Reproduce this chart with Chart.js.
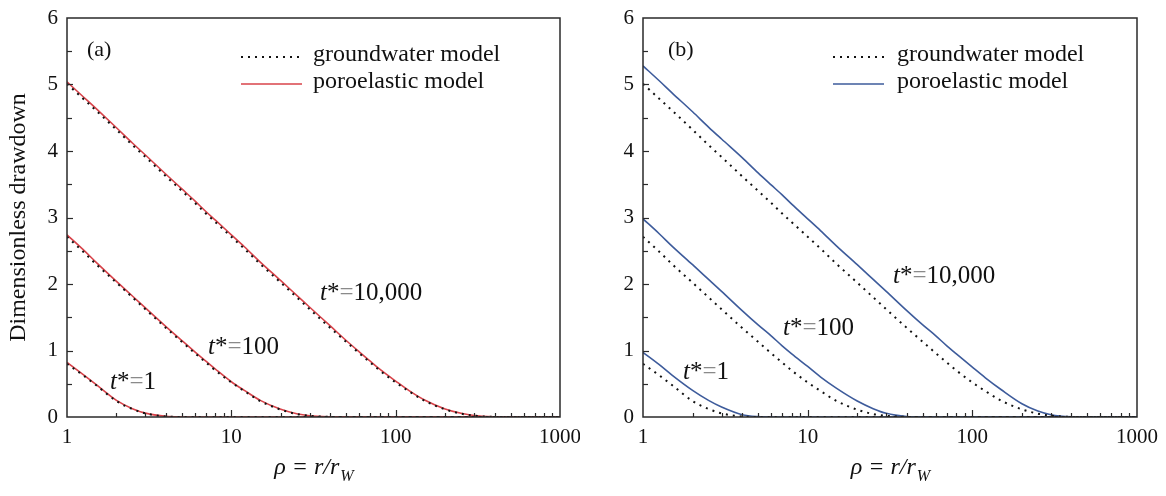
<!DOCTYPE html>
<html><head><meta charset="utf-8">
<script src="https://cdn.jsdelivr.net/npm/chart.js@4.4.1/dist/chart.umd.min.js"></script>
<style>
html,body{margin:0;padding:0;background:#fff;}
#wrap{position:relative;width:1166px;height:496px;overflow:hidden;background:#fff;}
canvas{position:absolute;top:0;}
</style></head><body>
<div id="wrap">
<canvas id="ca" width="580" height="496" style="left:0;width:580px;height:496px"></canvas>
<canvas id="cb" width="586" height="496" style="left:580px;width:586px;height:496px"></canvas>
</div>
<script>
// ---- data ----
const rho = [1, 1.25, 1.5, 2, 2.5, 3, 4, 5, 6, 7, 8, 10, 12, 15, 20, 25, 30, 40, 50, 60, 70, 80, 100, 120, 150, 200, 250, 300, 400, 500, 700, 1000];

const xTickLabels = [1, 10, 100, 1000];
const yTickLabels = [0, 1, 2, 3, 4, 5, 6];
const timeLabels = ['1', '100', '10,000'];

// groundwater model (same in both panels)
const gwT1     = [0.80,0.63,0.48,0.24,0.12,0.055,0.008,0.001,0,0,0,0,0,0,0,0,0,0,0,0,0,0,0,0,0,0,0,0,0,0,0,0];
const gwT100   = [2.71,2.49,2.30,2.02,1.80,1.62,1.34,1.13,0.96,0.82,0.70,0.52,0.39,0.24,0.11,0.045,0.018,0.002,0,0,0,0,0,0,0,0,0,0,0,0,0,0];
const gwT10000 = [5.01,4.79,4.61,4.32,4.09,3.91,3.62,3.40,3.22,3.06,2.93,2.71,2.53,2.30,2.02,1.80,1.62,1.34,1.13,0.96,0.82,0.70,0.52,0.39,0.245,0.115,0.05,0.02,0.002,0,0,0];

// poroelastic model, panel (a)
const paT1     = [0.82,0.64,0.49,0.25,0.125,0.058,0.009,0.001,0,0,0,0,0,0,0,0,0,0,0,0,0,0,0,0,0,0,0,0,0,0,0,0];
const paT100   = [2.74,2.52,2.33,2.04,1.82,1.64,1.36,1.15,0.98,0.84,0.72,0.53,0.40,0.25,0.115,0.048,0.019,0.003,0,0,0,0,0,0,0,0,0,0,0,0,0,0];
const paT10000 = [5.04,4.82,4.64,4.35,4.12,3.94,3.65,3.43,3.25,3.09,2.96,2.74,2.56,2.33,2.05,1.83,1.65,1.37,1.15,0.98,0.84,0.72,0.54,0.40,0.255,0.12,0.055,0.022,0.003,0,0,0];

// poroelastic model, panel (b)
const pbT1     = [0.97,0.79,0.63,0.40,0.25,0.15,0.035,0.005,0,0,0,0,0,0,0,0,0,0,0,0,0,0,0,0,0,0,0,0,0,0,0,0];
const pbT100   = [2.98,2.76,2.57,2.29,2.07,1.89,1.60,1.385,1.22,1.07,0.95,0.76,0.60,0.43,0.24,0.125,0.055,0.008,0.001,0,0,0,0,0,0,0,0,0,0,0,0,0];
const pbT10000 = [5.28,5.06,4.875,4.59,4.36,4.18,3.90,3.67,3.49,3.34,3.20,2.98,2.80,2.57,2.29,2.07,1.89,1.60,1.385,1.22,1.07,0.95,0.75,0.59,0.41,0.20,0.09,0.035,0.004,0,0,0];

const FONT = "'Liberation Serif', 'Times New Roman', serif";
const RED = '#d8434a';
const BLUE = '#3d5b9b';

function pts(arr){ return rho.map((r,i)=>({x:r, y:arr[i]})); }

function makeChart(id, cfg){
  const W = cfg.canvasW;
  const dotted = (arr)=>({data: pts(arr), showLine:true, borderColor:'#111', borderWidth:2, borderDash:[2,5], borderCapStyle:'butt', pointRadius:0, fill:false, cubicInterpolationMode:'monotone'});
  const solid = (arr)=>({data: pts(arr), showLine:true, borderColor:cfg.color, borderWidth:1.6, pointRadius:0, fill:false, cubicInterpolationMode:'monotone'});
  const datasets = [
    Object.assign({label:'groundwater model'}, dotted(gwT10000)),
    dotted(gwT100), dotted(gwT1),
    Object.assign({label:'poroelastic model'}, solid(cfg.p[2])),
    solid(cfg.p[1]), solid(cfg.p[0])
  ];
  const deco = {
    id:'deco',
    afterDraw(chart){
      const ctx = chart.ctx, a = chart.chartArea, xs = chart.scales.x, ys = chart.scales.y;
      ctx.save();
      // frame
      ctx.strokeStyle = '#2a2a2a'; ctx.lineWidth = 1.5;
      ctx.strokeRect(a.left, a.top, a.right - a.left, a.bottom - a.top);
      // y ticks (inward)
      ctx.lineWidth = 1.2;
      for (let v = 0.5; v < 6; v += 0.5){
        const y = Math.round(ys.getPixelForValue(v)) + 0.5;
        const len = (v % 1 === 0) ? 6 : 5;
        ctx.beginPath(); ctx.moveTo(a.left, y); ctx.lineTo(a.left + len, y); ctx.stroke();
      }
      // x ticks (inward)
      for (const d of [1, 10, 100]){
        for (let k = 1; k <= 9; k++){
          const v = d * k; if (v <= 1) continue;
          const x = Math.round(xs.getPixelForValue(v)) + 0.5;
          const len = (k === 1) ? 7 : 4;
          ctx.beginPath(); ctx.moveTo(x, a.bottom); ctx.lineTo(x, a.bottom - len); ctx.stroke();
        }
      }
      // panel letter
      ctx.fillStyle = '#111';
      ctx.font = '22px ' + FONT;
      ctx.textBaseline = 'middle'; ctx.textAlign = 'left';
      ctx.fillText(cfg.letter, cfg.letterX, 50);
      // legend
      ctx.font = '24px ' + FONT;
      ctx.strokeStyle = '#111'; ctx.lineWidth = 2; ctx.setLineDash([2,5]);
      ctx.beginPath(); ctx.moveTo(cfg.legX0, 57); ctx.lineTo(cfg.legX1, 57); ctx.stroke();
      ctx.setLineDash([]);
      ctx.strokeStyle = cfg.color; ctx.lineWidth = 1.6;
      ctx.beginPath(); ctx.moveTo(cfg.legX0, 84); ctx.lineTo(cfg.legX1, 84); ctx.stroke();
      ctx.fillText('groundwater model', cfg.legTextX, 55);
      ctx.fillText('poroelastic model', cfg.legTextX, 82);
      // curve labels
      cfg.ann.forEach((p, i)=>{
        let x = p[0];
        const y = p[1];
        const parts = [
          ['italic 25px ' + FONT, 't', '#111'],
          ['25px ' + FONT, '*', '#111'],
          ['25px ' + FONT, '=', '#8a8a8a'],
          ['25px ' + FONT, timeLabels[i], '#111']
        ];
        parts.forEach(pp=>{
          ctx.font = pp[0]; ctx.fillStyle = pp[2];
          ctx.fillText(pp[1], x, y);
          x += ctx.measureText(pp[1]).width;
        });
      });
      // x axis title: rho = r/r_W
      ctx.fillStyle = '#111';
      const cx = (a.left + a.right) / 2;
      ctx.font = 'italic 24px ' + FONT;
      const main = 'ρ = r/r';
      const wMain = ctx.measureText(main).width;
      ctx.font = 'italic 16px ' + FONT;
      const wSub = ctx.measureText('W').width;
      let x0 = cx - (wMain + wSub) / 2;
      ctx.font = 'italic 24px ' + FONT;
      ctx.fillText(main, x0, 468);
      ctx.font = 'italic 16px ' + FONT;
      ctx.fillText('W', x0 + wMain + 1, 477);
      ctx.restore();
    }
  };
  return new Chart(document.getElementById(id), {
    type:'scatter',
    data:{datasets},
    options:{
      responsive:false, animation:false, devicePixelRatio:1,
      layout:{padding:{top:18, right: W - cfg.plotRight, bottom:0, left:0}},
      plugins:{legend:{display:false}, tooltip:{enabled:false}},
      scales:{
        x:{
          type:'logarithmic', min:1, max:1000,
          grid:{display:false, drawTicks:false}, border:{display:false},
          ticks:{
            autoSkip:false, maxRotation:0, minRotation:0, padding:8, color:'#111',
            font:{family:FONT, size:21},
            callback:(v)=> xTickLabels.includes(Math.round(v)) && Math.abs(Math.round(v)-v) < 1e-6 ? String(Math.round(v)) : ''
          },
          afterFit:(s)=>{ s.height = 496 - 417; s.paddingLeft = 0; s.paddingRight = 0; }
        },
        y:{
          min:0, max:6,
          grid:{display:false, drawTicks:false}, border:{display:false},
          ticks:{stepSize:1, padding:9, color:'#111', font:{family:FONT, size:21},
            callback:(v)=> yTickLabels.includes(v) ? String(v) : ''},
          title:{display: cfg.yTitle, text:'Dimensionless drawdown', color:'#111',
            font:{family:FONT, size:24}, padding:{top:4, bottom:0}},
          afterFit:(s)=>{ s.width = cfg.plotLeft; s.paddingTop = 0; s.paddingBottom = 0; }
        }
      }
    },
    plugins:[deco]
  });
}

makeChart('ca', {
  canvasW:580, plotLeft:67, plotRight:560, color:RED, letter:'(a)', letterX:87,
  legX0:241, legX1:302, legTextX:313, yTitle:true,
  p:[paT1, paT100, paT10000],
  ann:[[110, 382], [208, 347], [320, 293]]
});
makeChart('cb', {
  canvasW:586, plotLeft:63, plotRight:557, color:BLUE, letter:'(b)', letterX:88,
  legX0:253, legX1:304, legTextX:317, yTitle:false,
  p:[pbT1, pbT100, pbT10000],
  ann:[[103, 372], [203, 328], [313, 276]]
});
</script>
</body></html>
